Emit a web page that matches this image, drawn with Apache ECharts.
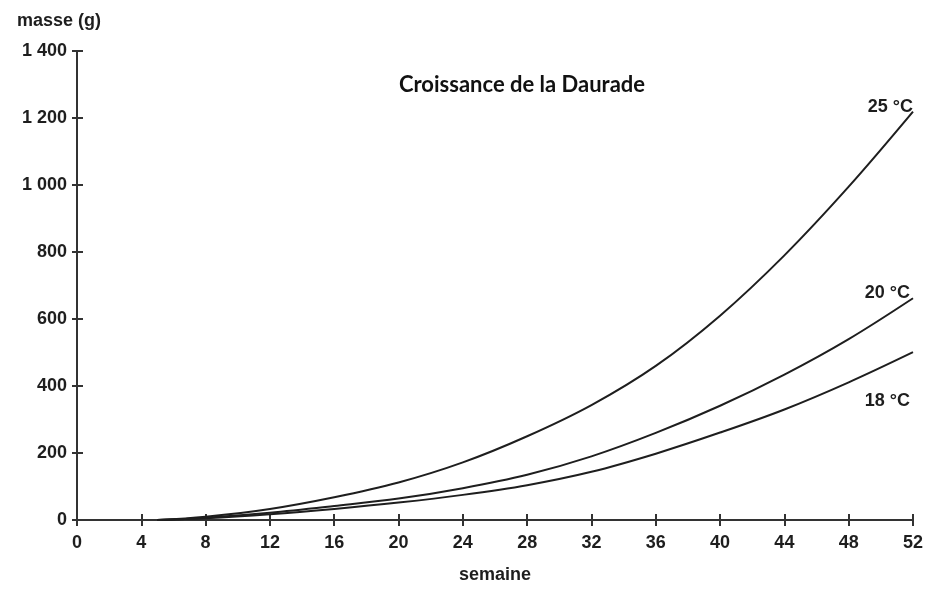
<!DOCTYPE html>
<html>
<head>
<meta charset="utf-8">
<script src="https://cdn.jsdelivr.net/npm/echarts@6/dist/echarts.min.js"></script>
<style>html,body{margin:0;padding:0;background:#fff}#c{width:930px;height:589px}</style>
</head>
<body>
<div id="c"></div>
<script>
const weeks = [5, 8, 12, 16, 20, 24, 28, 32, 36, 40, 44, 48, 52];
const mass25 = [0, 10, 33, 68, 112, 172, 250, 343, 460, 610, 790, 995, 1219];
const mass20 = [0, 7, 22, 42, 64, 95, 135, 190, 260, 341, 434, 540, 662];
const mass18 = [0, 5, 17, 33, 52, 75, 104, 144, 198, 261, 330, 411, 501];
const seriesNames = ['25 °C', '20 °C', '18 °C'];
const xTicks = [0, 4, 8, 12, 16, 20, 24, 28, 32, 36, 40, 44, 48, 52];
const yTicks = [0, 200, 400, 600, 800, 1000, 1200, 1400];

const FONT = 'Liberation Sans';
const INK = '#1e1e1e';
const labelOffsets = [[-8, -5], [-11, -5], [-11, 49]];
const dataSets = [mass25, mass20, mass18];

function fmtY(v) {
  return v >= 1000 ? Math.floor(v / 1000) + ' ' + String(v % 1000).padStart(3, '0') : String(v);
}

const chart = echarts.init(document.getElementById('c'), null, {renderer: 'canvas'});
const axisBase = {
  type: 'value',
  splitLine: {show: false},
  axisLine: {show: true, onZero: false, lineStyle: {color: '#333', width: 2}},
};
chart.setOption({
  animation: false,
  backgroundColor: '#fff',
  title: {
    text: 'Croissance de la Daurade',
    left: 517, top: 69, textAlign: 'center',
    textStyle: {fontFamily: 'Lato', fontWeight: 'bold', fontSize: 22, color: '#111'}
  },
  grid: {left: 77, right: 17, top: 51, bottom: 66, containLabel: false},
  xAxis: [
    Object.assign({}, axisBase, {
      min: xTicks[0], max: xTicks[xTicks.length - 1], interval: 4, position: 'bottom',
      name: 'semaine', nameLocation: 'middle', nameGap: 46,
      nameTextStyle: {fontFamily: FONT, fontWeight: 'bold', fontSize: 18, color: INK},
      axisTick: {show: true, length: 6, lineStyle: {color: '#333', width: 2}},
      axisLabel: {fontFamily: FONT, fontWeight: 'bold', fontSize: 18, color: INK, margin: 14}
    }),
    Object.assign({}, axisBase, {
      min: xTicks[0], max: xTicks[xTicks.length - 1], interval: 4, position: 'bottom',
      axisLine: {show: false},
      axisTick: {show: true, inside: true, length: 6, lineStyle: {color: '#333', width: 2}},
      axisLabel: {show: false}
    })
  ],
  yAxis: [
    Object.assign({}, axisBase, {
      min: yTicks[0], max: yTicks[yTicks.length - 1], interval: 200, position: 'left',
      axisTick: {show: true, length: 5, lineStyle: {color: '#333', width: 2}},
      axisLabel: {fontFamily: FONT, fontWeight: 'bold', fontSize: 18, color: INK, margin: 10, formatter: fmtY}
    }),
    Object.assign({}, axisBase, {
      min: yTicks[0], max: yTicks[yTicks.length - 1], interval: 200, position: 'left',
      axisLine: {show: false},
      axisTick: {show: true, inside: true, length: 6, lineStyle: {color: '#333', width: 2}},
      axisLabel: {show: false}
    })
  ],
  graphic: [{
    type: 'text', left: 17, top: 12,
    style: {text: 'masse (g)', fontFamily: FONT, fontWeight: 'bold', fontSize: 18, fill: INK}
  }],
  series: dataSets.map((d, i) => ({
    type: 'line',
    name: seriesNames[i],
    xAxisIndex: 0, yAxisIndex: 0,
    data: weeks.map((w, j) => [w, d[j]]),
    smooth: 0.35,
    showSymbol: false,
    lineStyle: {color: INK, width: 2},
    endLabel: {
      show: true, formatter: seriesNames[i], align: 'right', verticalAlign: 'middle',
      offset: labelOffsets[i],
      fontFamily: FONT, fontWeight: 'bold', fontSize: 18, color: INK
    }
  }))
});
</script>
</body>
</html>
